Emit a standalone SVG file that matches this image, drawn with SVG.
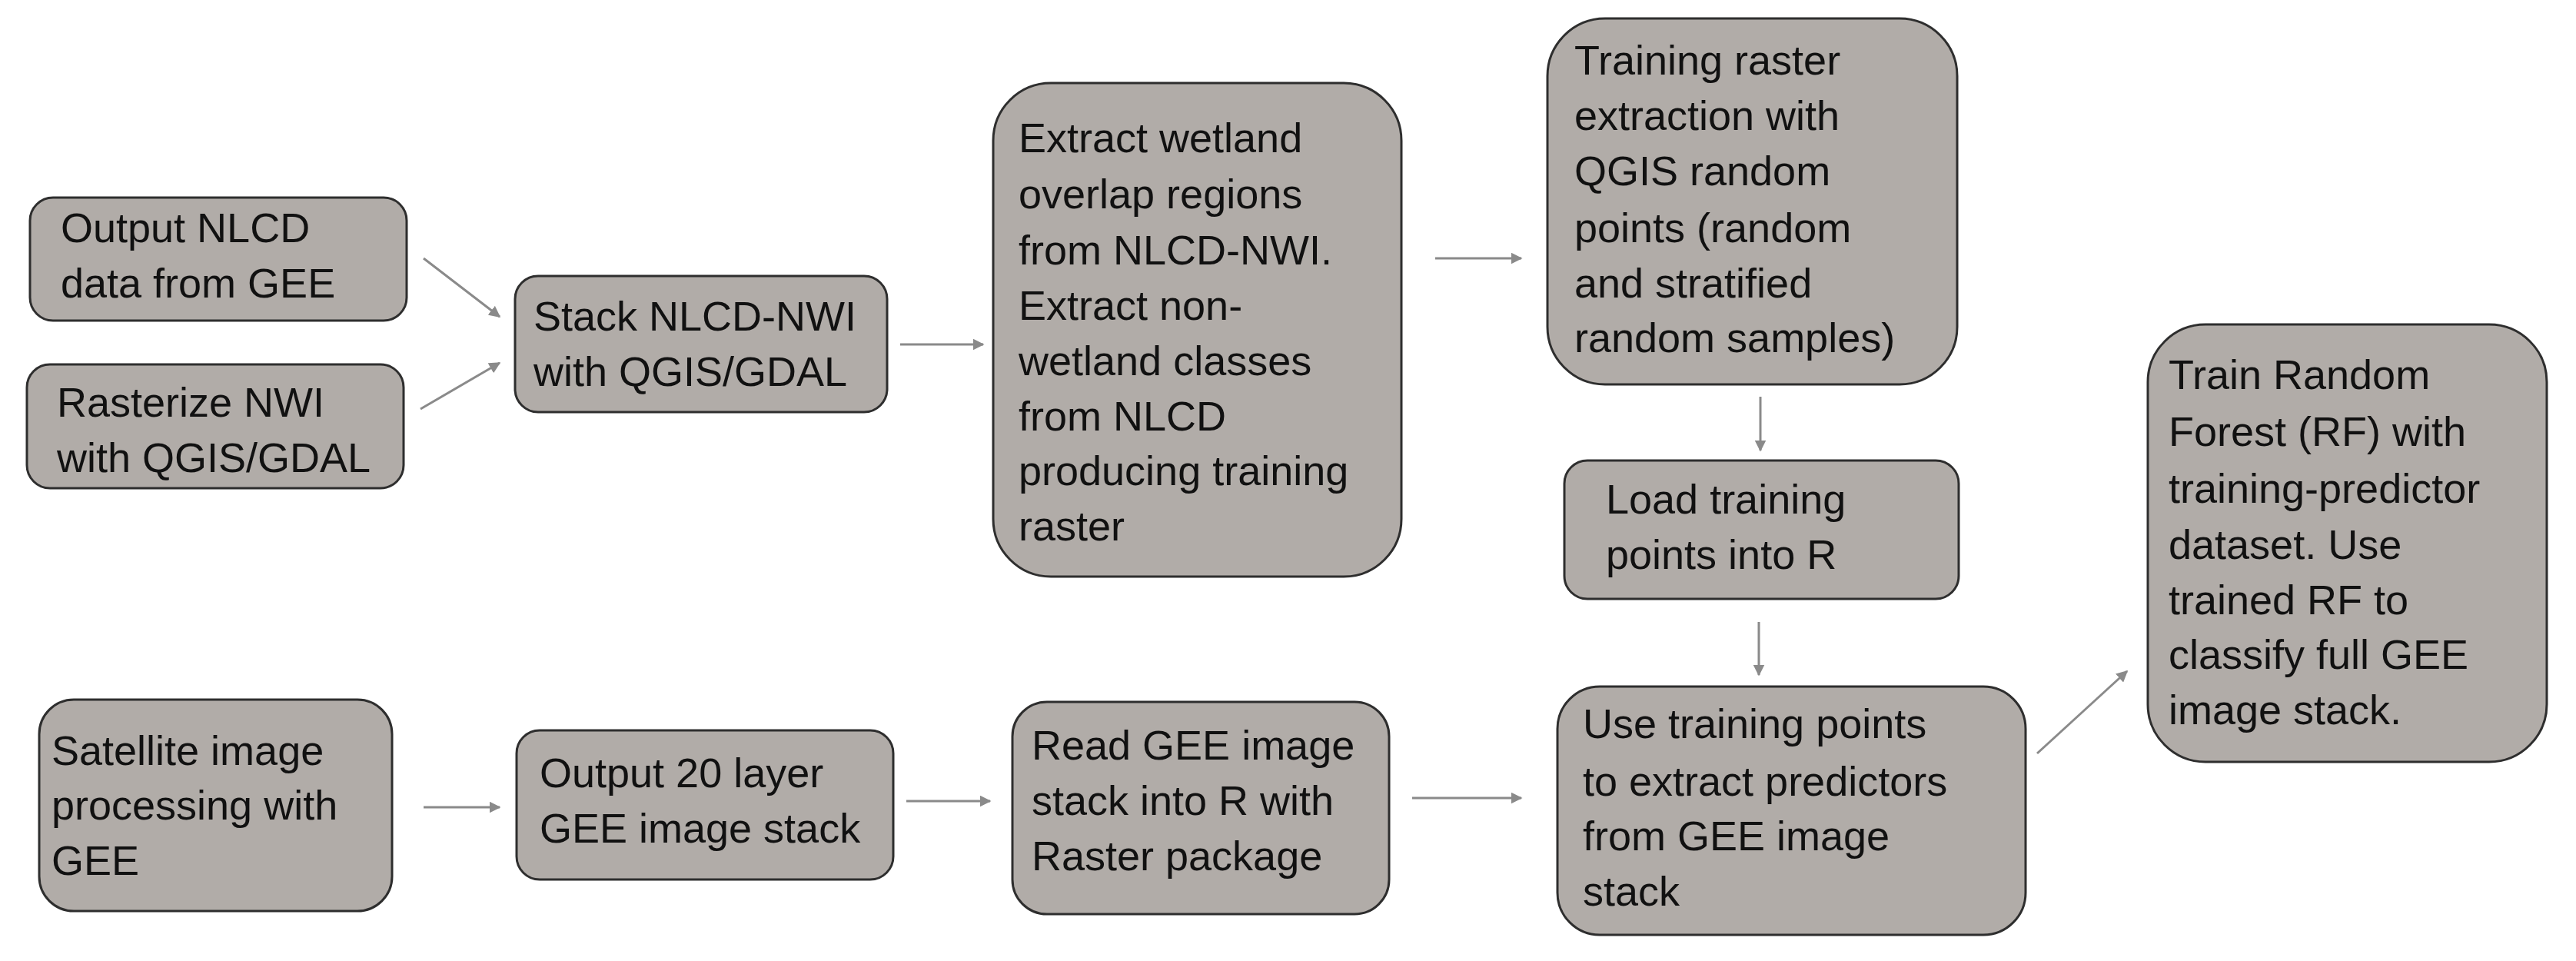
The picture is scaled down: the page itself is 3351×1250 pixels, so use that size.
<svg xmlns="http://www.w3.org/2000/svg" width="3351" height="1250" viewBox="0 0 3351 1250">
<style>
.b{fill:#b1aca8;stroke:#2e2e2e;stroke-width:3}
text{font-family:"Liberation Sans",Arial,sans-serif;font-size:54px;fill:#111}
.c line{stroke:#8a8a8a;stroke-width:3;marker-end:url(#a)}
</style>
<defs><marker id="a" viewBox="0 0 10 10" refX="9" refY="5" markerWidth="5" markerHeight="5" orient="auto" markerUnits="strokeWidth"><path d="M0,0L10,5L0,10z" fill="#8a8a8a"/></marker></defs>
<rect width="3351" height="1250" fill="#fff"/>
<g id="n1"><rect class="b" x="39" y="257" width="490" height="160" rx="30"/><text x="79" y="315">Output NLCD</text><text x="79" y="387">data from GEE</text></g>
<g id="n2"><rect class="b" x="35" y="474" width="490" height="161" rx="30"/><text x="74" y="542">Rasterize NWI</text><text x="74" y="614">with QGIS/GDAL</text></g>
<g id="n3"><rect class="b" x="670" y="359" width="484" height="177" rx="30"/><text x="694" y="430">Stack NLCD-NWI</text><text x="694" y="502">with QGIS/GDAL</text></g>
<g id="n4"><rect class="b" x="1292" y="108" width="531" height="642" rx="75"/><text x="1325" y="198">Extract wetland</text><text x="1325" y="271">overlap regions</text><text x="1325" y="344">from NLCD-NWI.</text><text x="1325" y="416">Extract non-</text><text x="1325" y="488">wetland classes</text><text x="1325" y="560">from NLCD</text><text x="1325" y="631">producing training</text><text x="1325" y="703">raster</text></g>
<g id="n5"><rect class="b" x="2013" y="24" width="533" height="476" rx="75"/><text x="2048" y="97">Training raster</text><text x="2048" y="169">extraction with</text><text x="2048" y="241">QGIS random</text><text x="2048" y="315">points (random</text><text x="2048" y="387">and stratified</text><text x="2048" y="458">random samples)</text></g>
<g id="n6"><rect class="b" x="2035" y="599" width="513" height="180" rx="30"/><text x="2089" y="668">Load training</text><text x="2089" y="740">points into R</text></g>
<g id="n7"><rect class="b" x="2026" y="893" width="609" height="323" rx="55"/><text x="2059" y="960">Use training points</text><text x="2059" y="1035">to extract predictors</text><text x="2059" y="1106">from GEE image</text><text x="2059" y="1178">stack</text></g>
<g id="n8"><rect class="b" x="2794" y="422" width="519" height="569" rx="75"/><text x="2821" y="506">Train Random</text><text x="2821" y="580">Forest (RF) with</text><text x="2821" y="654">training-predictor</text><text x="2821" y="727">dataset. Use</text><text x="2821" y="799">trained RF to</text><text x="2821" y="870">classify full GEE</text><text x="2821" y="942">image stack.</text></g>
<g id="n9"><rect class="b" x="51" y="910" width="459" height="275" rx="45"/><text x="67" y="995">Satellite image</text><text x="67" y="1066">processing with</text><text x="67" y="1138"> GEE</text></g>
<g id="n10"><rect class="b" x="672" y="950" width="490" height="194" rx="30"/><text x="702" y="1024">Output 20 layer</text><text x="702" y="1096">GEE image stack</text></g>
<g id="n11"><rect class="b" x="1317" y="913" width="490" height="276" rx="45"/><text x="1342" y="988">Read GEE image</text><text x="1342" y="1060">stack into R with</text><text x="1342" y="1132">Raster package</text></g>
<g class="c" id="connectors">
<line x1="551" y1="336" x2="650" y2="412"/>
<line x1="547" y1="532" x2="650" y2="472"/>
<line x1="1171" y1="448" x2="1279" y2="448"/>
<line x1="551" y1="1050" x2="650" y2="1050"/>
<line x1="1179" y1="1042" x2="1288" y2="1042"/>
<line x1="1867" y1="336" x2="1979" y2="336"/>
<line x1="2290" y1="516" x2="2290" y2="586"/>
<line x1="2288" y1="809" x2="2288" y2="878"/>
<line x1="1837" y1="1038" x2="1979" y2="1038"/>
<line x1="2650" y1="980" x2="2767" y2="873"/>
</g>
</svg>
